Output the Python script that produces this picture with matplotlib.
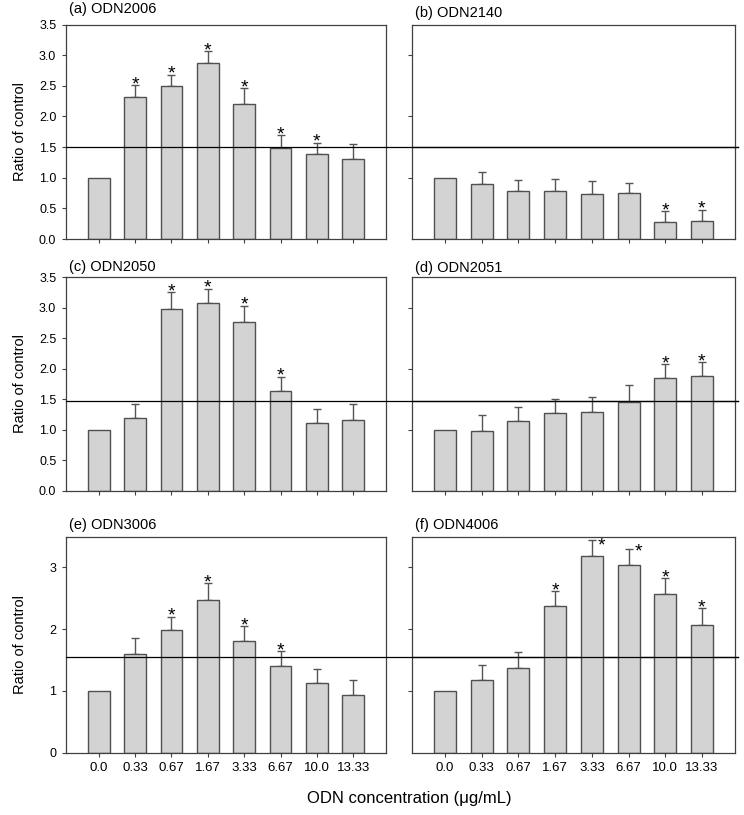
import numpy as np
import matplotlib
matplotlib.use("Agg")
import matplotlib.pyplot as plt

plt.rcParams['font.family'] = ['Liberation Sans', 'DejaVu Sans']

conc = ['0.0', '0.33', '0.67', '1.67', '3.33', '6.67', '10.0', '13.33']

titles = ['(a) ODN2006', '(b) ODN2140', '(c) ODN2050',
          '(d) ODN2051', '(e) ODN3006', '(f) ODN4006']

# bar heights (ratio of control)
a_vals = [1.00, 2.32, 2.50, 2.87, 2.21, 1.49, 1.38, 1.30]
b_vals = [1.00, 0.90, 0.78, 0.79, 0.74, 0.75, 0.27, 0.29]
c_vals = [1.00, 1.20, 2.97, 3.08, 2.77, 1.63, 1.12, 1.16]
d_vals = [1.00, 0.98, 1.14, 1.28, 1.30, 1.46, 1.85, 1.88]
e_vals = [1.00, 1.60, 1.98, 2.47, 1.80, 1.40, 1.12, 0.93]
f_vals = [1.00, 1.18, 1.37, 2.37, 3.18, 3.04, 2.57, 2.07]

# upper error bars
a_err = [0, 0.19, 0.18, 0.19, 0.25, 0.20, 0.19, 0.25]
b_err = [0, 0.19, 0.18, 0.19, 0.21, 0.17, 0.19, 0.19]
c_err = [0, 0.22, 0.28, 0.23, 0.26, 0.24, 0.22, 0.26]
d_err = [0, 0.27, 0.23, 0.23, 0.24, 0.27, 0.23, 0.23]
e_err = [0, 0.26, 0.22, 0.27, 0.25, 0.24, 0.23, 0.25]
f_err = [0, 0.24, 0.26, 0.24, 0.27, 0.25, 0.26, 0.27]

# bars marked with *
a_sig = [1, 2, 3, 4, 5, 6]
b_sig = [6, 7]
c_sig = [2, 3, 4, 5]
d_sig = [6, 7]
e_sig = [2, 3, 4, 5]
f_sig = [3, 4, 5, 6, 7]

# reference line per row
ref_lines = [1.50, 1.48, 1.55]

vals = [a_vals, b_vals, c_vals, d_vals, e_vals, f_vals]
errs = [a_err, b_err, c_err, d_err, e_err, f_err]
sigs = [a_sig, b_sig, c_sig, d_sig, e_sig, f_sig]

W, H = 744, 815
fig = plt.figure(figsize=(W / 100, H / 100), dpi=100)

cols = [(66, 386), (412, 735)]
rows = [(24.5, 239), (277, 491), (536.5, 752.5)]
title_off = [11, 7, 6.5, 5, 8, 7]

x = np.arange(len(conc))
axes = []
for i in range(6):
    r, c = divmod(i, 2)
    l, rr = cols[c]
    t, b = rows[r]
    ax = fig.add_axes([l / W, 1 - b / H, (rr - l) / W, (b - t) / H])
    ax.set_facecolor('none')
    axes.append(ax)

    v = np.array(vals[i])
    e = np.array(errs[i])
    ax.bar(x, v, width=0.6, color='#d3d3d3', edgecolor='#505050', linewidth=1.0, zorder=2)
    m = e > 0
    ax.errorbar(x[m], v[m], yerr=[np.zeros(m.sum()), e[m]], fmt='none',
                ecolor='#555555', elinewidth=1.0, capsize=3, capthick=1.0, zorder=1)

    for k in sigs[i]:
        top = v[k] + e[k]
        dx = 0
        dy = -3
        if i == 5 and k in (4, 5):
            dx = 7
            dy = -8 if k == 4 else -5
        ax.annotate('*', (x[k], top), xytext=(dx, dy), textcoords='offset points',
                    ha='center', va='baseline', fontsize=14)

    ax.set_xlim(-0.9, 7.9)
    ax.set_ylim(0, 3.5)
    ax.set_xticks(x)
    if r == 2:
        ax.set_xticklabels(conc, fontsize=9.5)
    else:
        ax.set_xticklabels([])

    if c == 0:
        if r == 2:
            ax.set_yticks([0, 1, 2, 3])
        else:
            ax.set_yticks(np.arange(0, 3.51, 0.5))
            ax.set_yticklabels(['%.1f' % y for y in np.arange(0, 3.51, 0.5)])
        for lab in ax.get_yticklabels():
            lab.set_fontsize(9)
        fig.text(20 / W, 1 - (t + b) / 2 / H, 'Ratio of control', rotation=90,
                 ha='center', va='center', fontsize=10.5)
        # reference line spans the gap between the two panels of the row
        span = (cols[1][1] + 3 - l) / (rr - l)
        ax.axhline(ref_lines[r], xmin=0, xmax=span, color='black', linewidth=0.9,
                   clip_on=False, zorder=3)
    else:
        ax.set_yticks([1, 2, 3])
        ax.set_yticklabels([])
        ax.axhline(ref_lines[r], xmin=0, xmax=(rr + 3 - l) / (rr - l), color='black',
                   linewidth=0.9, clip_on=False, zorder=3)

    for s in ax.spines.values():
        s.set_color('#404040')
        s.set_linewidth(0.9)
    ax.tick_params(direction='out', length=3, width=0.8, color='#404040', pad=4)

    ax.text(0.01, 1 + title_off[i] / (b - t), titles[i], transform=ax.transAxes,
            ha='left', va='baseline', fontsize=10.5)

fig.text(409 / W, 1 - 799 / H, 'ODN concentration (\u03bcg/mL)', ha='center', va='center',
         fontsize=12)

fig.savefig('out.png', dpi=100)
